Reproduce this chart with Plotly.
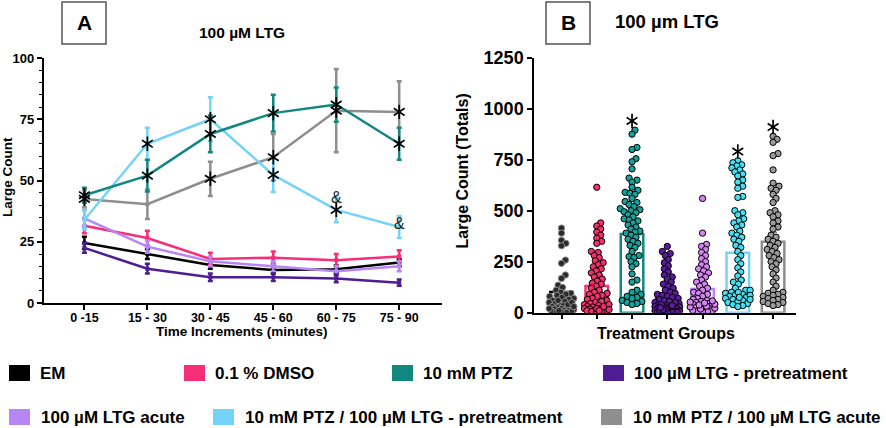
import plotly.graph_objects as go
import numpy as np

# ---------------- Panel A data ----------------
time_bins = ["0 -15", "15 - 30", "30 - 45", "45 - 60", "60 - 75", "75 - 90"]

em_mean = [24.5, 20.0, 15.5, 13.5, 13.8, 16.5]
em_err = [2.5, 2.0, 1.5, 1.5, 1.5, 1.5]
dmso_mean = [31.5, 26.5, 18.0, 18.5, 17.5, 19.0]
dmso_err = [3.0, 3.0, 2.5, 2.5, 2.5, 2.5]
ptz_mean = [44.0, 52.0, 69.0, 77.5, 81.0, 65.0]
ptz_err = [3.0, 6.5, 7.5, 7.5, 7.0, 6.5]
ltg_pre_mean = [22.5, 14.0, 10.5, 10.5, 10.0, 8.3]
ltg_pre_err = [2.0, 2.0, 1.5, 1.5, 1.5, 1.3]
ltg_acute_mean = [34.5, 23.0, 17.0, 15.0, 13.0, 15.0]
ltg_acute_err = [3.5, 2.5, 2.0, 2.0, 2.0, 2.0]
ptz_ltg_pre_mean = [34.0, 65.0, 75.0, 52.3, 38.0, 31.0]
ptz_ltg_pre_err = [4.0, 6.5, 9.0, 7.0, 5.0, 4.5]
ptz_ltg_acute_mean = [42.5, 40.3, 50.7, 59.5, 78.5, 78.0]
ptz_ltg_acute_err = [3.5, 6.0, 7.0, 9.5, 17.0, 12.5]

# significance flags (1 = asterisk) and "&" flags
sig_ptz = [1, 1, 1, 1, 1, 1]
sig_ptz_ltg_pre = [0, 1, 1, 1, 1, 0]
amp_ptz_ltg_pre = [0, 0, 0, 0, 1, 1]
sig_ptz_ltg_acute = [1, 0, 1, 1, 1, 1]

# ---------------- Panel B data ----------------
groups = ["EM", "0.1 % DMSO", "10 mM PTZ", "100 µM LTG - pretreatment",
          "100 µM LTG acute", "10 mM PTZ / 100 µM LTG - pretreatment",
          "10 mM PTZ / 100 µM LTG acute"]
group_means = [101, 131, 386, 75, 116, 294, 348]
group_sem = [25, 20, 30, 12, 16, 30, 45]
group_sig = [0, 0, 1, 0, 0, 1, 1]

pts_em = [415, 390, 355, 340, 328, 258, 242, 185, 168, 135, 124, 110, 100, 95, 90,
          85, 80, 75, 70, 65, 60, 55, 50, 45, 40, 35, 30, 28, 25, 22, 20, 18, 15,
          12, 10, 8, 5, 3, 2, 1, 40, 50, 60, 30, 20, 10]
pts_dmso = [615, 440, 425, 410, 395, 380, 365, 350, 340, 300, 295, 280, 270, 255, 245,
            235, 225, 215, 205, 195, 185, 175, 165, 155, 145, 140, 130, 120, 110, 100,
            95, 90, 85, 80, 70, 65, 60, 55, 50, 45, 40, 35, 30, 28, 25, 22, 20, 18, 15,
            12, 10, 8, 6, 5, 3, 20, 30, 40, 15, 10]
pts_ptz = [895, 875, 810, 800, 755, 740, 705, 660, 650, 640, 615, 600, 590, 585, 580,
           560, 545, 540, 530, 520, 510, 505, 500, 495, 490, 480, 470, 460, 455, 450,
           440, 430, 420, 410, 400, 395, 390, 380, 370, 360, 350, 340, 330, 320, 300,
           280, 275, 270, 250, 240, 225, 190, 160, 150, 110, 100, 90, 80, 75, 70, 60,
           55, 50, 45, 40]
pts_ltg_pre = [325, 300, 290, 280, 260, 245, 230, 215, 200, 185, 175, 165, 150, 140,
               130, 120, 110, 100, 95, 90, 85, 80, 75, 70, 65, 60, 55, 50, 45, 40, 35,
               32, 30, 28, 25, 22, 20, 18, 15, 12, 10, 8, 6, 5, 4, 3, 2, 2, 1, 0, 10,
               20, 30, 40, 50, 15, 25, 35]
pts_ltg_acute = [560, 390, 335, 325, 310, 295, 280, 265, 250, 235, 225, 215, 205, 195,
                 185, 175, 160, 150, 140, 130, 120, 110, 100, 95, 90, 80, 70, 65, 60,
                 55, 50, 45, 40, 35, 30, 25, 20, 15, 10, 5, 3, 8, 12, 18, 22, 28, 32,
                 38, 42, 48, 52, 58]
pts_ptz_ltg_pre = [745, 735, 725, 720, 710, 700, 690, 680, 670, 650, 640, 620, 610, 570,
                   565, 500, 490, 480, 460, 450, 440, 430, 420, 400, 390, 380, 370, 360,
                   350, 330, 320, 300, 280, 260, 240, 220, 200, 180, 160, 150, 140, 120,
                   110, 100, 95, 90, 85, 80, 75, 70, 65, 60, 55, 50, 45, 40, 35, 30, 100,
                   110, 85, 75, 65]
pts_ptz_ltg_acute = [865, 850, 835, 780, 770, 700, 635, 620, 610, 600, 580, 560, 540,
                     500, 490, 480, 470, 450, 440, 420, 410, 380, 370, 360, 350, 340,
                     330, 320, 310, 300, 290, 280, 270, 260, 250, 240, 225, 210, 190,
                     170, 150, 130, 110, 100, 95, 90, 85, 80, 75, 70, 65, 60, 55, 50,
                     45, 40, 35]
group_points = [pts_em, pts_dmso, pts_ptz, pts_ltg_pre, pts_ltg_acute,
                pts_ptz_ltg_pre, pts_ptz_ltg_acute]

# ---------------- styles ----------------
FONT = "Liberation Sans, Arial, sans-serif"
c_em = "#000000"
c_dmso = "#F72D77"
c_ptz = "#12877F"
c_ltg_pre = "#4E1D93"
c_ltg_acute = "#B785F6"
c_ptz_ltg_pre = "#74D3F8"
c_ptz_ltg_acute = "#8E8E8E"
group_colors = [c_em, c_dmso, c_ptz, c_ltg_pre, c_ltg_acute, c_ptz_ltg_pre, c_ptz_ltg_acute]
point_fills = ["#2A2A2A", "#F2306C", "#14A29C", "#5A1C9C", "#D684F4", "#42DFF1", "#9A9A9A"]
point_edges = ["#8A8A8A", "black", "black", "black", "black", "black", "black"]

fig = go.Figure()

# ---------------- Panel A traces ----------------
series_A = [
    (em_mean, em_err, c_em),
    (dmso_mean, dmso_err, c_dmso),
    (ltg_acute_mean, ltg_acute_err, c_ltg_acute),
    (ltg_pre_mean, ltg_pre_err, c_ltg_pre),
    (ptz_ltg_acute_mean, ptz_ltg_acute_err, c_ptz_ltg_acute),
    (ptz_ltg_pre_mean, ptz_ltg_pre_err, c_ptz_ltg_pre),
    (ptz_mean, ptz_err, c_ptz),
]
for mean, err, col in series_A:
    fig.add_trace(go.Scatter(
        x=time_bins, y=mean, mode="lines+markers",
        line=dict(color=col, width=2.5),
        marker=dict(color=col, size=4, symbol="square"),
        error_y=dict(type="data", array=err, visible=True, color=col,
                     thickness=2.5, width=2.5),
        xaxis="x", yaxis="y", showlegend=False, hoverinfo="skip"))


def add_asterisks(xs, ys, xaxis, yaxis, size=9):
    for sym in ("y-up-open", "y-down-open"):
        fig.add_trace(go.Scatter(
            x=xs, y=ys, mode="markers",
            marker=dict(symbol=sym, size=size, color="black",
                        line=dict(color="black", width=1.7)),
            xaxis=xaxis, yaxis=yaxis, showlegend=False, hoverinfo="skip"))


ax, ay = [], []
for mean, flags in ((ptz_mean, sig_ptz), (ptz_ltg_pre_mean, sig_ptz_ltg_pre),
                    (ptz_ltg_acute_mean, sig_ptz_ltg_acute)):
    for i, f in enumerate(flags):
        if f:
            ax.append(time_bins[i])
            ay.append(mean[i])
add_asterisks(ax, ay, "x", "y")

# ---------------- Panel B traces ----------------
PX_PER_UNIT = 254.7 / 1250.0
PX_PER_CAT = 35.8


def swarm(values, diam, max_px):
    vals = np.asarray(values, dtype=float)
    order = np.argsort(vals)
    placed = []
    offs = np.zeros(len(vals))
    cands = [0.0]
    for s in np.arange(0.5, max_px + 0.01, 0.5):
        cands += [s, -s]
    for i in order:
        y = vals[i] * PX_PER_UNIT
        best = None
        for c in cands:
            if all((px_ - c) ** 2 + (py_ - y) ** 2 >= diam ** 2 for px_, py_ in placed):
                best = c
                break
        if best is None:
            bestd = -1
            for c in cands:
                md = min((px_ - c) ** 2 + (py_ - y) ** 2 for px_, py_ in placed)
                if md > bestd:
                    bestd, best = md, c
        placed.append((best, y))
        offs[i] = best
    return offs / PX_PER_CAT


for gi, (name, mean, sem, col) in enumerate(zip(groups, group_means, group_sem, group_colors)):
    fig.add_trace(go.Bar(
        x=[gi], y=[mean], width=0.64,
        marker=dict(color="rgba(255,255,255,0)", line=dict(color=col, width=2.5)),
        error_y=dict(type="data", array=[sem], visible=True, color=col,
                     thickness=1.5, width=4),
        xaxis="x2", yaxis="y2", showlegend=False, hoverinfo="skip"))

for gi, pts in enumerate(group_points):
    offs = swarm(pts, 5.0, 12.5)
    fig.add_trace(go.Scatter(
        x=gi + offs, y=pts, mode="markers",
        marker=dict(size=6.3, color=point_fills[gi],
                    line=dict(color=point_edges[gi], width=1)),
        xaxis="x2", yaxis="y2", showlegend=False, hoverinfo="skip"))

bx = [gi for gi, s in enumerate(group_sig) if s]
by = [max(group_points[gi]) + 45 for gi in bx]
add_asterisks(bx, by, "x2", "y2", size=9)

# ---------------- layout ----------------
W, H = 886, 428


def px(x):
    return x / W


def py(y):
    return 1 - y / H


axis_common = dict(showline=True, linecolor="black", linewidth=1.5, ticks="outside",
                   ticklen=5, tickwidth=1.5, tickcolor="black", showgrid=False,
                   zeroline=False, automargin=False)

fig.update_layout(
    template="none",
    width=W, height=H, margin=dict(l=0, r=0, t=0, b=0, pad=0), autosize=False,
    paper_bgcolor="white", plot_bgcolor="white", barmode="overlay", showlegend=False,
    font=dict(family=FONT, color="black"),
    xaxis=dict(domain=[px(43.5), px(442)], type="category", range=[-0.65, 5.68],
               anchor="y", ticklabelstandoff=-3,
               tickfont=dict(family=FONT, size=12.5, weight="bold"), **axis_common),
    yaxis=dict(domain=[py(303), py(58)], range=[0, 100], tickvals=[0, 25, 50, 75, 100],
               anchor="x",
               tickfont=dict(family=FONT, size=13, weight="bold"),
               minor=dict(dtick=5, ticks="outside", ticklen=3, tickwidth=1, tickcolor="black"),
               **axis_common),
    xaxis2=dict(domain=[px(534), px(796)], range=[-0.78, 6.65], anchor="y2",
                tickvals=list(range(len(groups))), showticklabels=False, **axis_common),
    yaxis2=dict(domain=[py(312.7), py(57.7)], range=[0, 1250], anchor="x2",
                tickvals=[0, 250, 500, 750, 1000, 1250],
                tickfont=dict(family=FONT, size=18, weight="bold"), **axis_common),
)

ann = []
shapes = []


def text(x, y, s, size, bold=True, xanchor="center", angle=0):
    ann.append(dict(x=px(x), y=py(y), xref="paper", yref="paper", text=s,
                    showarrow=False, xanchor=xanchor, yanchor="middle", textangle=angle,
                    font=dict(family=FONT, size=size, color="black",
                              weight="bold" if bold else "normal")))


# "&" markers attached to their data points
for i, f in enumerate(amp_ptz_ltg_pre):
    if f:
        ann.append(dict(x=time_bins[i], y=ptz_ltg_pre_mean[i], xref="x", yref="y",
                        text="&", showarrow=False, xanchor="center", yanchor="middle",
                        yshift=12 if sig_ptz_ltg_pre[i] else 4,
                        font=dict(family=FONT, size=16, color="#222")))

# panel boxes
for (x0, x1, lab) in ((62, 106, "A"), (546, 590, "B")):
    shapes.append(dict(type="rect", xref="paper", yref="paper", x0=px(x0), x1=px(x1),
                       y0=py(44), y1=py(2), line=dict(color="#555555", width=1.5),
                       fillcolor="white"))
    text((x0 + x1) / 2, 23, lab, 21)

text(242, 32, "100 µM LTG", 15.5)
text(667, 21, "100 µm LTG", 18.5)
text(8, 177, "Large Count", 13.5, angle=-90)
text(242.5, 331, "Time Increments (minutes)", 13.5)
text(461.5, 171, "Large Count (Totals)", 16, angle=-90)
text(666, 333, "Treatment Groups", 16)

# legend (squares + labels)
legend_rows = [
    (373, [(9, 38, 0), (184, 213, 1), (392, 421, 2), (603, 632, 3)]),
    (417, [(9, 39, 4), (213, 243, 5), (601, 631, 6)]),
]
for yc, items in legend_rows:
    for sx, tx, gi in items:
        shapes.append(dict(type="rect", xref="paper", yref="paper",
                           x0=px(sx), x1=px(sx + 21), y0=py(yc + 8), y1=py(yc - 8),
                           line=dict(width=0), fillcolor=group_colors[gi]))
        text(tx, yc, groups[gi], 17, xanchor="left")

fig.update_layout(annotations=ann, shapes=shapes)

fig.write_html("out.html", config={"displayModeBar": False},
               post_script="document.body.style.margin='0';document.body.style.overflow='hidden';")
